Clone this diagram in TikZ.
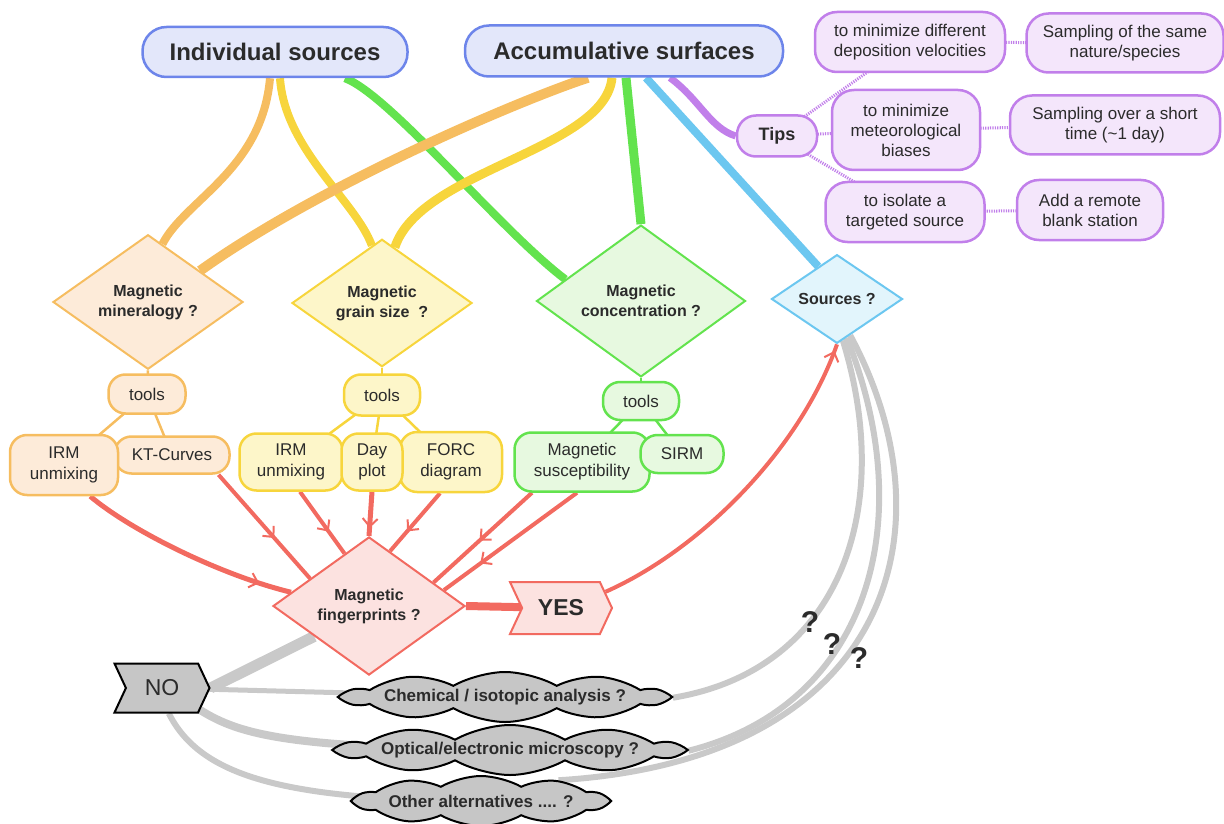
\documentclass[tikz,border=0pt]{standalone}
\usepackage{fontspec}
\setmainfont{Liberation Sans}
\usepackage{xcolor}
\usepackage{tikz}
\usetikzlibrary{shapes.geometric,shapes.symbols,arrows.meta,decorations.markings,backgrounds}

\definecolor{ink}{HTML}{2B2B2B}
\definecolor{blueline}{HTML}{6D85EA}
\definecolor{bluefill}{HTML}{E3E7FA}
\definecolor{orangeline}{HTML}{F6BD60}
\definecolor{orangefill}{HTML}{FDEBD9}
\definecolor{yellowline}{HTML}{F7D53C}
\definecolor{yellowfill}{HTML}{FDF6C9}
\definecolor{greenline}{HTML}{63E34E}
\definecolor{greenfill}{HTML}{E7F9E0}
\definecolor{skyline}{HTML}{6CC7F0}
\definecolor{skyfill}{HTML}{E2F5FC}
\definecolor{purpleline}{HTML}{C17FEA}
\definecolor{purplefill}{HTML}{F4E6FB}
\definecolor{redline}{HTML}{F26A60}
\definecolor{redfill}{HTML}{FCE2E0}
\definecolor{graystem}{HTML}{C9C9C9}
\definecolor{cloudfill}{HTML}{C6C6C6}

\tikzset{
  sourcebox/.style={draw=blueline, fill=bluefill, line width=2.5pt, rounded corners=24pt,
    inner sep=0pt, text=ink, font=\fontsize{24}{28}\selectfont\bfseries},
  askshape/.style 2 args={diamond, draw=#1, fill=#2, line width=2pt, inner sep=0pt,
    align=center, text=ink, font=\fontsize{16}{20}\selectfont\bfseries},
  toolbox/.style 2 args={draw=#1, fill=#2, line width=2.5pt, rounded corners=17pt,
    align=center, inner sep=0pt, text=ink, font=\fontsize{17}{21}\selectfont},
  tipbox/.style={toolbox={purpleline}{purplefill}, rounded corners=22pt,
    font=\fontsize{17}{20}\selectfont},
  answer/.style 2 args={signal, signal from=west, signal to=east, signal pointer angle=130,
    draw=#1, fill=#2, line width=2pt, inner sep=0pt, text=ink,
    font=\fontsize{23}{26}\selectfont\bfseries},
  alternative/.style={cloud, cloud puffs=10, cloud puff arc=60, cloud ignores aspect,
    draw=black, fill=cloudfill, line width=2pt, inner xsep=-80pt, inner ysep=0pt,
    minimum height=50pt, text=ink, font=\fontsize{17}{20}\selectfont\bfseries},
  qmark/.style={inner sep=0pt, text=ink, font=\fontsize{30}{30}\selectfont\bfseries},
  stem/.style={draw=#1},
  toolline/.style={draw=#1, line width=2.5pt},
  dotline/.style={draw=purpleline, line width=3pt, dash pattern=on 1.2pt off 1.2pt},
  grayarc/.style={draw=graystem},
  redarrow/.style={draw=redline, line width=4pt, postaction={decorate},
    decoration={markings, mark=at position #1 with
      {\arrow{Straight Barb[length=8pt, width=15pt, line width=2pt, color=redline]}}}},
}

\begin{document}
\begin{tikzpicture}[x=1pt, y=-1pt]
  \useasboundingbox (0,0) rectangle (1224,824);

  % the two kinds of sources:
  \node[sourcebox, minimum width=265pt, minimum height=50pt] (indiv) at (275,52) {Individual sources};
  \node[sourcebox, minimum width=318pt, minimum height=51pt] (accum) at (624,51) {Accumulative surfaces};

  % tips and what to do:
  \node[tipbox, rounded corners=19pt, minimum width=80pt, minimum height=41pt,
    font=\fontsize{18}{21}\selectfont\bfseries] (tips) at (777,136) {Tips};
  \node[tipbox, minimum width=190pt, minimum height=60pt] (tipa) at (910,42) {to minimize different\\deposition velocities};
  \node[tipbox, minimum width=197pt, minimum height=59pt] (samea) at (1125,43) {Sampling of the same\\nature/species};
  \node[tipbox, minimum width=148pt, minimum height=80pt] (tipb) at (906,130) {to minimize\\meteorological\\biases};
  \node[tipbox, minimum width=210pt, minimum height=59pt] (sameb) at (1115,125) {Sampling over a short\\time (\textasciitilde1 day)};
  \node[tipbox, minimum width=159pt, minimum height=60pt] (tipc) at (905,212) {to isolate a\\targeted source};
  \node[tipbox, minimum width=146pt, minimum height=60pt] (samec) at (1090,210) {Add a remote\\blank station};

  % questions:
  \node[askshape={orangeline}{orangefill}, minimum width=190pt, minimum height=110pt] (mineral) at (148,302) {Magnetic\\mineralogy ?};
  \node[askshape={yellowline}{yellowfill}, minimum width=180pt, minimum height=107pt] (grain) at (382,303) {Magnetic\\grain size\ \ ?};
  \node[askshape={greenline}{greenfill}, minimum width=209pt, minimum height=122pt] (conc) at (641,301) {Magnetic\\concentration ?};
  \node[askshape={skyline}{skyfill}, minimum width=131pt, minimum height=79pt] (src) at (837,299) {Sources ?};

  % tools:
  \node[toolbox={orangeline}{orangefill}, minimum width=77pt, minimum height=39pt] (mintools) at (147,394) {tools};
  \node[toolbox={orangeline}{orangefill}, minimum width=115pt, minimum height=37pt] (kt) at (172,455) {KT-Curves};
  \node[toolbox={orangeline}{orangefill}, minimum width=108pt, minimum height=60pt] (minirm) at (64,465) {IRM\\unmixing};

  \node[toolbox={yellowline}{yellowfill}, minimum width=76pt, minimum height=41pt] (grantools) at (382,395) {tools};
  \node[toolbox={yellowline}{yellowfill}, minimum width=103pt, minimum height=57pt] (irmtwo) at (291,462) {IRM\\unmixing};
  \node[toolbox={yellowline}{yellowfill}, minimum width=102pt, minimum height=60pt] (forc) at (451,462) {FORC\\diagram};
  \node[toolbox={yellowline}{yellowfill}, minimum width=61pt, minimum height=57pt] (day) at (372,462) {Day\\plot};

  \node[toolbox={greenline}{greenfill}, minimum width=76pt, minimum height=38pt] (contools) at (641,401) {tools};
  \node[toolbox={greenline}{greenfill}, minimum width=135pt, minimum height=59pt] (msus) at (582,462) {Magnetic\\susceptibility};
  \node[toolbox={greenline}{greenfill}, minimum width=83pt, minimum height=38pt] (sirm) at (682,454) {SIRM};

  % fingerprints and answers:
  \node[askshape={redline}{redfill}, minimum width=192pt, minimum height=112pt] (fp) at (369,606) {Magnetic\\fingerprints ?};
  \node[answer={redline}{redfill}, minimum width=102pt, minimum height=52pt] (yes) at (561,608) {YES};
  \node[answer={black}{cloudfill}, minimum width=95pt, minimum height=49pt, font=\fontsize{23}{26}\selectfont] (no) at (162,688) {NO};

  \node[alternative, minimum width=320pt] (chem) at (505,697) {Chemical / isotopic analysis ?};
  \node[alternative, minimum width=340pt] (opt) at (510,750) {Optical/electronic microscopy ?};
  \node[alternative, minimum width=250pt] (other) at (481,801) {Other alternatives .... ?};

  \node[qmark] (qa) at (810,622) {?};
  \node[qmark] (qb) at (832,644) {?};
  \node[qmark] (qc) at (859,658) {?};

  % connectors behind the boxes:
  \begin{scope}[on background layer]
    \draw[stem=orangeline, line width=8pt] ([xshift=-5pt]indiv.south) .. controls (262,170) and (185,200) .. (mineral.76);
    \draw[stem=yellowline, line width=8pt] ([xshift=5pt]indiv.south) .. controls (285,150) and (355,200) .. (grain.100);
    \draw[stem=greenline, line width=8pt] ([xshift=70pt]indiv.south) .. controls (390,95) and (500,230) .. (conc.164);
    \draw[stem=orangeline, line width=10pt] ([xshift=-36pt]accum.south) .. controls (520,100) and (320,185) .. (mineral.31);
    \draw[stem=yellowline, line width=9pt] ([xshift=-12pt]accum.south) .. controls (605,150) and (420,170) .. (grain.77);
    \draw[stem=greenline, line width=9pt] ([xshift=2pt]accum.south) -- (conc.north);
    \draw[stem=skyline, line width=8pt] ([xshift=22pt]accum.south) -- (src.120);
    \draw[stem=purpleline, line width=7pt] ([xshift=46pt]accum.south) .. controls (700,100) and (710,128) .. (tips.west);

    \draw[dotline] (tips.center) -- (tipa.center);
    \draw[dotline] (tips.center) -- (tipb.center);
    \draw[dotline] (tips.center) -- (tipc.center);
    \draw[dotline] (tipa.center) -- (samea.center);
    \draw[dotline] (tipb.center) -- (sameb.center);
    \draw[dotline] (tipc.center) -- (samec.center);

    \draw[toolline=orangeline] (mineral.south) -- (mintools.center);
    \draw[toolline=orangeline] (mintools.center) -- (minirm.center);
    \draw[toolline=orangeline] (mintools.center) -- (kt.center);
    \draw[toolline=yellowline] (grain.south) -- (grantools.center);
    \draw[toolline=yellowline] (grantools.center) -- (irmtwo.center);
    \draw[toolline=yellowline] (grantools.center) -- (day.center);
    \draw[toolline=yellowline] (grantools.center) -- (forc.center);
    \draw[toolline=greenline] (conc.south) -- (contools.center);
    \draw[toolline=greenline] (contools.center) -- (msus.center);
    \draw[toolline=greenline] (contools.center) -- (sirm.center);

    \draw[redarrow=-33pt, line width=5pt] (minirm.-50) .. controls (130,530) and (220,575) .. (fp.170);
    \draw[redarrow=-54pt] (kt.-23) -- (fp.155);
    \draw[redarrow=-27pt] ([xshift=9pt]irmtwo.south) -- (fp.115);
    \draw[redarrow=-8pt, line width=5pt] (day.south) -- (fp.north);
    \draw[redarrow=-26pt] ([xshift=-11pt]forc.south) -- (fp.69);
    \draw[redarrow=-62pt] ([xshift=-50pt]msus.south) -- (fp.20);
    \draw[redarrow=-45pt] ([xshift=-5pt]msus.south) -- (fp.12);
    \draw[draw=redline, line width=8pt] (fp.east) -- (yes.center);
    \draw[redarrow=-7pt] (yes.20) .. controls (700,550) and (800,450) .. (src.south);

    \draw[grayarc, line width=11pt] (fp.209) -- (no.east);
    \draw[grayarc, line width=5pt] (no.center) -- (chem.center);
    \draw[grayarc, line width=8pt] (no.-30) .. controls (240,735) and (290,748) .. (opt.center);
    \draw[grayarc, line width=6pt] (no.-75) .. controls (200,775) and (280,800) .. (other.center);
    \draw[grayarc, line width=6pt] (src.-82) .. controls (895,510) and (840,670) .. (chem.east);
    \draw[grayarc, line width=6pt] (src.-76) .. controls (920,520) and (870,705) .. (opt.east);
    \draw[grayarc, line width=6pt] (src.-70) .. controls (955,530) and (890,760) .. (other.15);
  \end{scope}
\end{tikzpicture}
\end{document}
